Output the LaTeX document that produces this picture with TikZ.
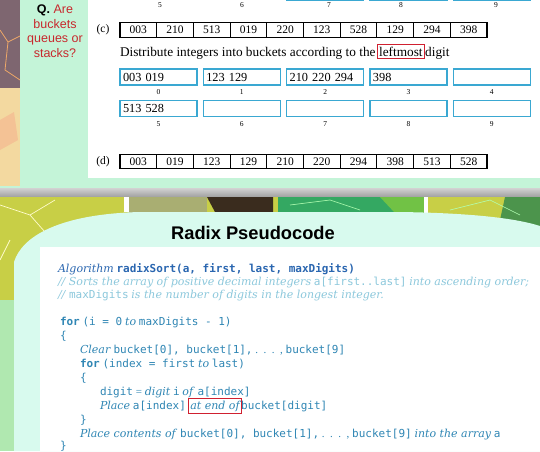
\documentclass[tikz,border=0pt]{standalone}
\usepackage{fontspec}
\setmainfont{Liberation Serif}
\setsansfont{Liberation Sans}
\setmonofont{DejaVu Sans Mono}
\newfontfamily\pseudoserif{DejaVu Serif}
\newcommand{\pseudoit}[1]{{\pseudoserif\itshape #1}}
\newcommand{\pseudodots}{.\enspace.\enspace.\enspace,}
\usepackage{xcolor}
\usetikzlibrary{positioning}
\definecolor{bucketblue}{HTML}{3AA8D2}
\definecolor{panelgreen}{HTML}{C4F4D8}
\definecolor{mint}{HTML}{D8FAEE}
\definecolor{qred}{HTML}{C8282D}
\definecolor{boxred}{HTML}{D02030}
\definecolor{codeblue}{HTML}{2F86B4}
\definecolor{headblue}{HTML}{2A66B0}
\definecolor{commentblue}{HTML}{8CC8DC}
\definecolor{leafyellow}{HTML}{C8CF46}
\definecolor{leafgreen}{HTML}{34A862}
\definecolor{leafolive}{HTML}{A9AE72}
\definecolor{leafdark}{HTML}{3A2C1E}
\definecolor{stripbrown}{HTML}{7E6670}
\definecolor{stripsand}{HTML}{F3D9A0}
\definecolor{striporange}{HTML}{EFA868}
\tikzset{>=latex}

\begin{document}
\begin{tikzpicture}[x=1pt,y=-1pt]
  \tikzstyle{every node}=[inner sep=0pt, outer sep=0pt]
  \tikzstyle{cell}=[draw=black, line width=1.1pt, minimum width=36.7pt, minimum height=14.5pt, font=\fontsize{11.5}{12}\selectfont]
  \tikzstyle{bucket}=[draw=bucketblue, line width=1.6pt, minimum height=16pt, text width=71pt, inner xsep=3pt, align=left, font=\fontsize{12.3}{13}\selectfont]
  \tikzstyle{blabel}=[font=\fontsize{7.5}{8}\selectfont]
  \tikzstyle{sentence}=[anchor=base west, font=\fontsize{13.3}{14}\selectfont]
  \tikzstyle{code}=[anchor=base west, text=codeblue, font=\fontsize{11}{12}\selectfont]
  \tikzstyle{comment}=[code, text=commentblue]
  \tikzstyle{redbox}=[draw=boxred, line width=1pt, inner xsep=1.5pt, inner ysep=2.5pt]
  \useasboundingbox (0,0) rectangle (540,451);

  % top slide
  \fill[panelgreen] (0,0) rectangle (540,188);
  \fill[white] (88,0) rectangle (540,178);
  \fill[stripbrown] (0,0) rectangle (20,88);
  \fill[stripsand] (0,88) rectangle (20,186);
  \draw[striporange, line width=0.8pt] (0,30) -- (8,42) -- (20,36) (8,42) -- (5,70) -- (20,80);
  \fill[striporange!70] (0,120) -- (14,112) -- (18,140) -- (0,150) -- cycle;
  \node[font=\sffamily\fontsize{12.5}{14}\selectfont, align=center] (q) at (55,31)
    {\textbf{Q.} \textcolor{qred}{Are}\\[0.5pt]\textcolor{qred}{buckets}\\[0.5pt]\textcolor{qred}{queues or}\\[0.5pt]\textcolor{qred}{stacks?}};

  % cut-off row of buckets above
  \foreach \n/\x in {7/325,8/408.5,9/491.8}
    \draw[bucketblue, line width=1.4pt] (\x-38.5,-10) rectangle (\x+38.5,0.5);
  \foreach \n/\x in {5/160,6/242,7/329,8/401,9/496}
    \node[blabel] (top\n) at (\x,5) {\n};

  % row (c)
  \node[font=\fontsize{11.5}{12}\selectfont] (clabel) at (103,30) {(c)};
  \foreach \v [count=\i] in {003,210,513,019,220,123,528,129,294,398}
    \node[cell] (c\i) at ({120+36.7*(\i-0.5)},30) {\v};

  \node[sentence] (dist) at (120,56) {Distribute integers into buckets according to the};
  \node[sentence, redbox] (leftmost) at ([xshift=2pt]dist.base east) {leftmost};
  \node[sentence] (digit) at ([xshift=1pt]leftmost.base east) {digit};

  % buckets
  \foreach \n/\t in {0/{003 019},1/{123 129},2/{210 220 294},3/{398},4/{}}
  {
    \node[bucket] (b\n) at ({158.5+83.33*\n},77) {\t};
    \node[blabel, below=5pt of b\n] (l\n) {\n};
  }
  \foreach \n/\t in {5/{513 528},6/{},7/{},8/{},9/{}}
  {
    \node[bucket] (b\n) at ({158.5+83.33*(\n-5)},108.5) {\t};
    \node[blabel, below=5pt of b\n] (l\n) {\n};
  }

  % row (d)
  \node[font=\fontsize{11.5}{12}\selectfont] (dlabel) at (103,161.5) {(d)};
  \foreach \v [count=\i] in {003,019,123,129,210,220,294,398,513,528}
    \node[cell] (d\i) at ({120+36.7*(\i-0.5)},161.5) {\v};

  % divider
  \shade[top color=gray!35, bottom color=gray!75] (0,188) rectangle (540,197);

  % bottom slide
  \fill[leafyellow] (0,197) rectangle (540,451);
  \fill[gray!45!green!40] (0,300) rectangle (15,451);
  \draw[white!80!yellow, line width=0.7pt] (0,205) -- (30,215) -- (55,200) (30,215) -- (45,232) (10,240) -- (0,260);
  \fill[white] (124,197) rectangle (129,212);
  \fill[leafolive] (129,197) rectangle (207,213);
  \fill[leafdark] (207,197) -- (273,197) -- (273,212) -- (215,212) -- cycle;
  \fill[leafgreen] (278,197) rectangle (424,213);
  \fill[leafgreen!70!yellow] (380,197) -- (424,197) -- (424,213) -- (395,213) -- cycle;
  \fill[white] (424,197) rectangle (428,213);
  \fill[green!40!black!70] (505,197) -- (540,197) -- (540,230) -- (500,220) -- cycle;
  \draw[white!70!green, line width=0.6pt] (290,205) -- (330,200) -- (360,210) (450,210) -- (490,200) -- (520,215);
  \fill[mint] (14,451) -- (14,262) .. controls (22,236) and (60,214) .. (140,212)
    -- (400,212) .. controls (470,213) and (515,218) .. (540,226) -- (540,451) -- cycle;
  \node[font=\sffamily\bfseries\fontsize{18.3}{20}\selectfont] (title) at (253,233) {Radix Pseudocode};
  \fill[white] (40,247) rectangle (540,451);

  % pseudocode
  \node[code] (algo) at (58,272)
    {\textcolor{headblue}{\pseudoit{Algorithm} \textbf{\texttt{radixSort(a, first, last, maxDigits)}}}};
  \node[comment] (com1) at (58,285)
    {\pseudoit{// Sorts the array of positive decimal integers} \texttt{a[first..last]} \pseudoit{into ascending order;}};
  \node[comment] (com2) at (58,298)
    {\pseudoit{//} \texttt{maxDigits} \pseudoit{is the number of digits in the longest integer.}};
  \node[code] (for1) at (60,325) {\textbf{\texttt{for}} \texttt{(i = 0} \pseudoit{to} \texttt{maxDigits - 1)}};
  \node[code] (open1) at (60,339) {\texttt{\{}};
  \node[code] (clear) at (80,353) {\pseudoit{Clear} \texttt{bucket[0], bucket[1],} \pseudodots\ \texttt{bucket[9]}};
  \node[code] (for2) at (80,367) {\textbf{\texttt{for}} \texttt{(index = first} \pseudoit{to} \texttt{last)}};
  \node[code] (open2) at (80,381) {\texttt{\{}};
  \node[code] (getdigit) at (100,395) {\texttt{digit} = \pseudoit{digit} \texttt{i} \pseudoit{of} \texttt{a[index]}};
  \node[code] (place) at (100,409) {\pseudoit{Place} \texttt{a[index]}};
  \node[code, redbox] (atend) at ([xshift=3pt]place.base east) {\pseudoit{at end of}};
  \node[code] (target) at (atend.base east) {\texttt{bucket[digit]}};
  \node[code] (close2) at (80,423) {\texttt{\}}};
  \node[code] (contents) at (80,437)
    {\pseudoit{Place contents of} \texttt{bucket[0], bucket[1],} \pseudodots\ \texttt{bucket[9]} \pseudoit{into the array} \texttt{a}};
  \node[code] (close1) at (60,449) {\texttt{\}}};
\end{tikzpicture}
\end{document}
